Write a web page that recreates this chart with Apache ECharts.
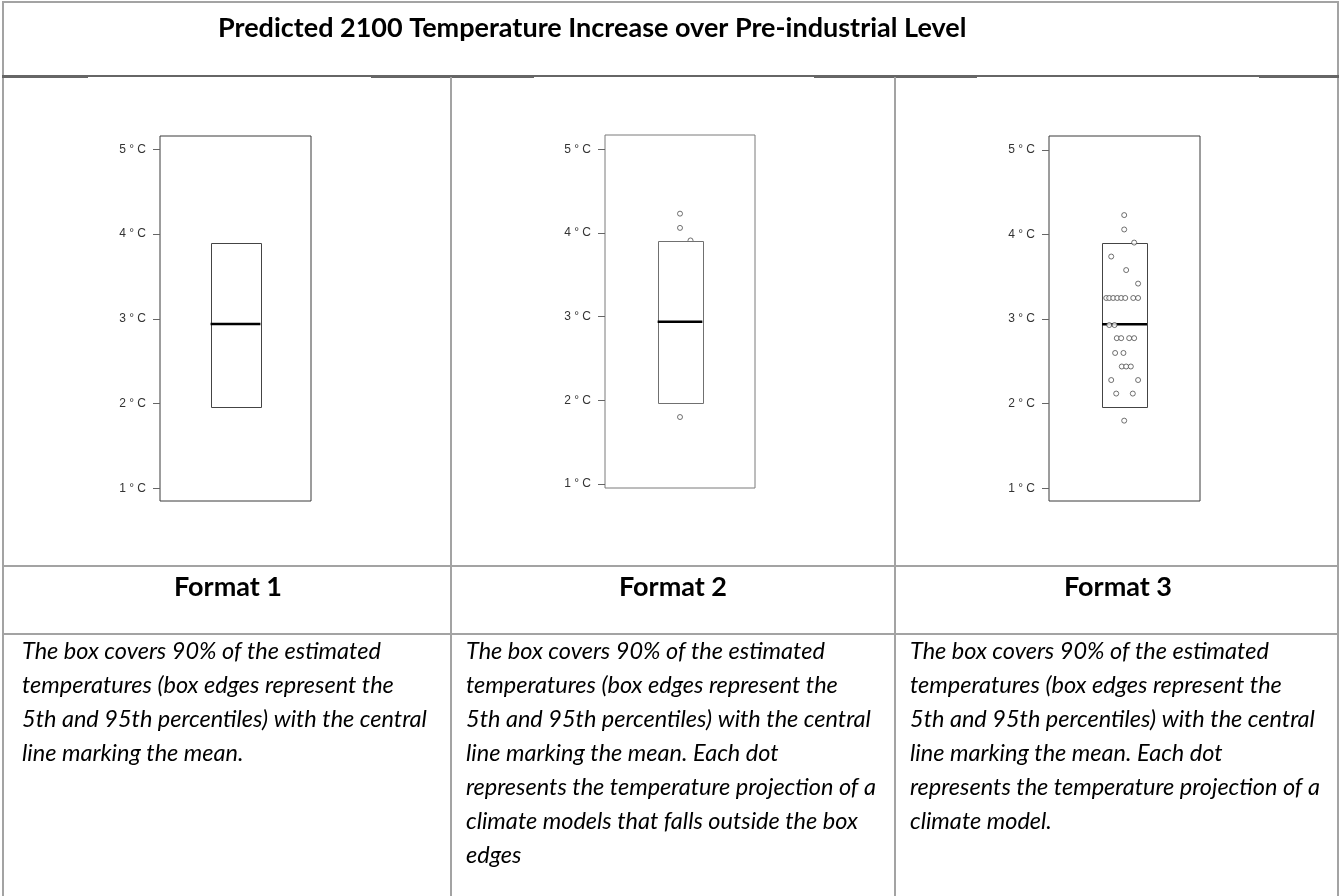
<!DOCTYPE html>
<html>
<head>
<meta charset="utf-8">
<title>Predicted 2100 Temperature Increase</title>
<script src="https://cdn.jsdelivr.net/npm/echarts@6/dist/echarts.min.js"></script>
<style>
  html, body { margin: 0; padding: 0; background: #fff; }
  #chart { width: 1341px; height: 896px; }
</style>
</head>
<body>
<div id="chart"></div>
<script>
// ---- data ----
const titleText = 'Predicted 2100 Temperature Increase over Pre-industrial Level';
const formatNames = ['Format 1', 'Format 2', 'Format 3'];
const tickValues = [1, 2, 3, 4, 5];

// box: 5th percentile, 95th percentile and mean (°C)
const boxP5 = [1.965, 1.96, 1.965];
const boxP95 = [3.90, 3.90, 3.905];
const boxMean = [2.94, 2.94, 2.94];

// Format 2: models outside the box (temperature, horizontal slot)
const outsideTemps = [4.23, 4.06, 3.91, 1.80];
const outsideSlots = [0.50, 0.50, 0.57, 0.50];

// Format 3: every climate model (temperature, horizontal slot)
const modelTemps = [
  4.23, 4.06, 3.905, 3.74, 3.58, 3.42,
  3.25, 3.25, 3.25, 3.25, 3.25, 3.25, 3.25, 3.25,
  2.93, 2.93,
  2.775, 2.775, 2.775, 2.775,
  2.60, 2.60,
  2.44, 2.44, 2.44,
  2.28, 2.28,
  2.12, 2.12,
  1.80
];
const modelSlots = [
  0.498, 0.498, 0.564, 0.412, 0.511, 0.590,
  0.379, 0.399, 0.425, 0.452, 0.478, 0.505, 0.558, 0.590,
  0.399, 0.434,
  0.449, 0.478, 0.531, 0.564,
  0.438, 0.493,
  0.482, 0.511, 0.542,
  0.412, 0.590,
  0.445, 0.555,
  0.498
];

const descriptions = [
  ['The box covers 90% of the estimated',
   'temperatures (box edges represent the',
   '5th and 95th percentiles) with the central',
   'line marking the mean.'],
  ['The box covers 90% of the estimated',
   'temperatures (box edges represent the',
   '5th and 95th percentiles) with the central',
   'line marking the mean. Each dot',
   'represents the temperature projection of a',
   'climate models that falls outside the box',
   'edges'],
  ['The box covers 90% of the estimated',
   'temperatures (box edges represent the',
   '5th and 95th percentiles) with the central',
   'line marking the mean. Each dot',
   'represents the temperature projection of a',
   'climate model.']
];

// ---- layout ----
const panels = [
  { left: 160, top: 136, width: 151, height: 365, yMin: 0.85, yMax: 5.157, boxL: 0.335, boxR: 0.665, frame: '#3a3a3a', box: '#444', cx: 228, tx: 22 },
  { left: 605, top: 135, width: 150, height: 353, yMin: 0.952, yMax: 5.17, boxL: 0.351, boxR: 0.649, frame: '#7a7a7a', box: '#707070', cx: 673, tx: 466 },
  { left: 1049, top: 136, width: 151, height: 365, yMin: 0.85, yMax: 5.165, boxL: 0.351, boxR: 0.649, frame: '#3a3a3a', box: '#444', cx: 1118, tx: 910 }
];

const chart = echarts.init(document.getElementById('chart'), null, { renderer: 'canvas' });

const grids = [], xAxes = [], yAxes = [], series = [];
panels.forEach(function (p, i) {
  grids.push({ left: p.left, top: p.top, width: p.width, height: p.height,
    show: true, borderColor: p.frame, borderWidth: 1, backgroundColor: 'transparent' });
  xAxes.push({ gridIndex: i, type: 'value', min: 0, max: 1, show: false });
  yAxes.push({
    gridIndex: i, type: 'value', min: p.yMin, max: p.yMax,
    axisLine: { show: false },
    splitLine: { show: false },
    axisTick: { show: true, length: 7, inside: false, customValues: tickValues,
      lineStyle: { color: '#666', width: 1 } },
    axisLabel: { show: true, margin: 14, customValues: tickValues,
      formatter: function (v) { return v + ' \u00b0 C'; },
      color: '#333', fontSize: 12, fontFamily: '"Liberation Sans", Arial, sans-serif' }
  });
  series.push({
    type: 'custom', xAxisIndex: i, yAxisIndex: i, z: i === 1 ? 3 : 2,
    encode: { x: [0, 1], y: [2, 3, 4] },
    data: [[p.boxL, p.boxR, boxP5[i], boxP95[i], boxMean[i]]],
    renderItem: function (params, api) {
      const tl = api.coord([api.value(0), api.value(3)]);
      const br = api.coord([api.value(1), api.value(2)]);
      const ml = api.coord([api.value(0), api.value(4)]);
      const mr = api.coord([api.value(1), api.value(4)]);
      return { type: 'group', children: [
        { type: 'rect', shape: { x: Math.round(tl[0]) + 0.5, y: Math.round(tl[1]) + 0.5,
            width: Math.round(br[0] - tl[0]), height: Math.round(br[1] - tl[1]) },
          style: { fill: '#fff', stroke: p.box, lineWidth: 1 } },
        { type: 'line', shape: { x1: ml[0], y1: ml[1], x2: mr[0], y2: mr[1] },
          style: { stroke: '#000', lineWidth: 2.5 } }
      ] };
    }
  });
});

function dotSeries(idx, temps, slots, z) {
  return {
    type: 'scatter', xAxisIndex: idx, yAxisIndex: idx, z: z,
    symbol: 'circle', symbolSize: 5,
    itemStyle: { color: '#fff', borderColor: '#3a3a3a', borderWidth: 0.9 },
    data: temps.map(function (t, k) { return [slots[k], t]; })
  };
}
series.push(dotSeries(1, outsideTemps, outsideSlots, 2));
series.push(dotSeries(2, modelTemps, modelSlots, 4));

// ---- table frame and text ----
const lineGray = '#a3a3a3';
const graphics = [
  { type: 'rect', shape: { x: 2, y: 1, width: 1337, height: 2 }, style: { fill: lineGray }, silent: true },
  { type: 'rect', shape: { x: 2, y: 1, width: 2, height: 895 }, style: { fill: lineGray }, silent: true },
  { type: 'rect', shape: { x: 1337, y: 1, width: 2, height: 895 }, style: { fill: lineGray }, silent: true },
  { type: 'rect', shape: { x: 2, y: 75, width: 1337, height: 2 }, style: { fill: '#666' }, silent: true },
  { type: 'rect', shape: { x: 2, y: 77, width: 86, height: 1 }, style: { fill: '#666' }, silent: true },
  { type: 'rect', shape: { x: 371, y: 77, width: 163, height: 1 }, style: { fill: '#666' }, silent: true },
  { type: 'rect', shape: { x: 814, y: 77, width: 163, height: 1 }, style: { fill: '#666' }, silent: true },
  { type: 'rect', shape: { x: 1259, y: 77, width: 80, height: 1 }, style: { fill: '#666' }, silent: true },
  { type: 'rect', shape: { x: 450, y: 77, width: 2, height: 819 }, style: { fill: lineGray }, silent: true },
  { type: 'rect', shape: { x: 894, y: 77, width: 2, height: 819 }, style: { fill: lineGray }, silent: true },
  { type: 'rect', shape: { x: 2, y: 565, width: 1337, height: 2 }, style: { fill: lineGray }, silent: true },
  { type: 'rect', shape: { x: 2, y: 633, width: 1337, height: 2 }, style: { fill: lineGray }, silent: true },
  { type: 'text', x: 218, y: 28, silent: true,
    style: { text: titleText, fill: '#000', font: 'bold 27px Lato, "Open Sans", sans-serif',
      textAlign: 'left', textVerticalAlign: 'middle' } }
];
panels.forEach(function (p, i) {
  graphics.push({ type: 'text', x: p.cx, y: 587, silent: true,
    style: { text: formatNames[i], fill: '#000', font: 'bold 27px Lato, "Open Sans", sans-serif',
      textAlign: 'center', textVerticalAlign: 'middle' } });
  descriptions[i].forEach(function (line, k) {
    graphics.push({ type: 'text', x: p.tx, y: 651 + k * 34, silent: true,
      style: { text: line, fill: '#000', font: 'italic 23.5px Lato, "Open Sans", sans-serif',
        textAlign: 'left', textVerticalAlign: 'middle' } });
  });
});

chart.setOption({
  animation: false,
  backgroundColor: '#fff',
  grid: grids,
  xAxis: xAxes,
  yAxis: yAxes,
  series: series,
  graphic: graphics
});
</script>
</body>
</html>
